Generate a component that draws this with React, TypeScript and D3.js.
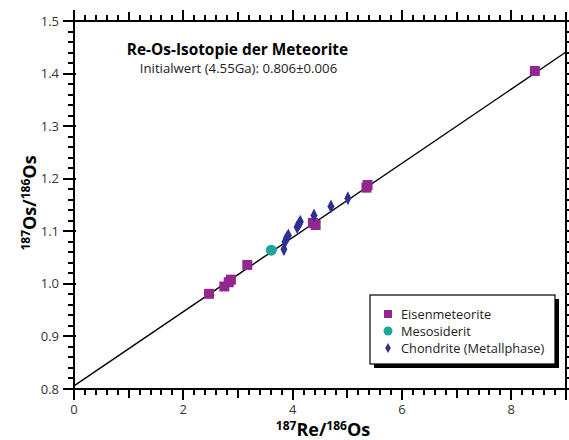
import React, { useRef, useEffect } from 'react';
import * as d3 from 'd3';

// Eisenmeteorite (squares)
const ironRe = [2.47, 2.75, 2.83, 2.87, 3.17, 4.37, 4.42, 5.35, 5.37, 8.43];
const ironOs = [0.981, 0.995, 1.003, 1.008, 1.036, 1.116, 1.112, 1.183, 1.188, 1.405];
// Mesosiderit (circle)
const mesoRe = [3.61];
const mesoOs = [1.064];
// Chondrite (Metallphase) (diamonds)
const chonRe = [3.84, 3.86, 3.89, 3.92, 4.08, 4.11, 4.14, 4.39, 4.7, 5.01];
const chonOs = [1.066, 1.08, 1.087, 1.092, 1.108, 1.113, 1.118, 1.13, 1.147, 1.163];
// isochron
const lineRe = [0, 9];
const lineOs = [0.806, 1.441];

const xMajor = [0, 2, 4, 6, 8];
const yMajor = [0.8, 0.9, 1.0, 1.1, 1.2, 1.3, 1.4, 1.5];

const legendItems = ['Eisenmeteorite', 'Mesosiderit', 'Chondrite (Metallphase)'];

const PURPLE = '#93278f';
const TEAL = '#1ba79b';
const NAVY = '#2e3192';

const Chart = () => {
  const ref = useRef<SVGSVGElement>(null);

  useEffect(() => {
    const root = d3.select(ref.current);
    root.selectAll('*').remove();
    const font = '"Open Sans", "Noto Sans", sans-serif';

    const left = 74;
    const right = 566;
    const top = 21;
    const bottom = 389;

    const x = d3.scaleLinear().domain([0, 9]).range([left, right]);
    const y = d3.scaleLinear().domain([0.8, 1.5]).range([bottom, top]);

    const svg = root.attr('width', 569).attr('height', 440).style('font-family', font);

    // minor ticks every 0.2 on x, every 0.02 on y
    const xMinor = d3.range(0, 46).map((i) => +(i * 0.2).toFixed(1));
    const yMinor = d3.range(0, 36).map((i) => +(0.8 + i * 0.02).toFixed(2));
    const xLen = (i: number) => (i % 10 === 0 ? 11 : i % 5 === 0 ? 9 : 6);
    const yLen = (i: number) => (i % 5 === 0 ? 11 : 6);

    const ticks = svg.append('g').attr('stroke', '#000').attr('stroke-width', 2).attr('shape-rendering', 'crispEdges');
    ticks
      .selectAll('line.xb')
      .data(xMinor)
      .enter()
      .append('line')
      .attr('x1', (d) => Math.round(x(d)))
      .attr('x2', (d) => Math.round(x(d)))
      .attr('y1', bottom)
      .attr('y2', (d, i) => bottom + xLen(i));
    ticks
      .selectAll('line.xt')
      .data(xMinor)
      .enter()
      .append('line')
      .attr('x1', (d) => Math.round(x(d)))
      .attr('x2', (d) => Math.round(x(d)))
      .attr('y1', top)
      .attr('y2', (d, i) => top - xLen(i));
    ticks
      .selectAll('line.yl')
      .data(yMinor)
      .enter()
      .append('line')
      .attr('y1', (d) => Math.round(y(d)))
      .attr('y2', (d) => Math.round(y(d)))
      .attr('x1', (d, i) => left - yLen(i))
      .attr('x2', (d, i) => left + (i % 5 === 0 ? 2 : 0));
    ticks
      .selectAll('line.yr')
      .data(yMinor)
      .enter()
      .append('line')
      .attr('y1', (d) => Math.round(y(d)))
      .attr('y2', (d) => Math.round(y(d)))
      .attr('x1', right)
      .attr('x2', (d, i) => right + yLen(i));

    // frame
    ticks.append('line').attr('x1', left - 11).attr('x2', right + 1).attr('y1', bottom).attr('y2', bottom);
    ticks.append('line').attr('x1', left - 11).attr('x2', right + 1).attr('y1', top).attr('y2', top);
    ticks.append('line').attr('x1', left).attr('x2', left).attr('y1', top - 1).attr('y2', bottom + 11);
    ticks.append('line').attr('x1', right).attr('x2', right).attr('y1', top - 1).attr('y2', bottom + 11);

    svg
      .append('g')
      .selectAll('text')
      .data(xMajor)
      .enter()
      .append('text')
      .attr('x', (d) => x(d))
      .attr('y', 414)
      .attr('text-anchor', 'middle')
      .attr('font-size', 13)
      .attr('fill', '#333')
      .text((d) => d);

    svg
      .append('g')
      .selectAll('text')
      .data(yMajor)
      .enter()
      .append('text')
      .attr('x', 59)
      .attr('y', (d) => y(d) + 4.5)
      .attr('text-anchor', 'end')
      .attr('font-size', 13)
      .attr('fill', '#333')
      .text((d) => d.toFixed(1));

    // axis titles
    const xt = svg
      .append('text')
      .attr('x', 323)
      .attr('y', 436)
      .attr('text-anchor', 'middle')
      .attr('font-size', 18)
      .attr('font-weight', 'bold');
    xt.append('tspan').attr('font-size', 12).attr('dy', -6).text('187');
    xt.append('tspan').attr('dy', 6).text('Re/');
    xt.append('tspan').attr('font-size', 12).attr('dy', -6).text('186');
    xt.append('tspan').attr('dy', 6).text('Os');

    const yt = svg
      .append('text')
      .attr('transform', 'translate(36,203) rotate(-90)')
      .attr('text-anchor', 'middle')
      .attr('font-size', 18)
      .attr('font-weight', 'bold');
    yt.append('tspan').attr('font-size', 12).attr('dy', -6).text('187');
    yt.append('tspan').attr('dy', 6).text('Os/');
    yt.append('tspan').attr('font-size', 12).attr('dy', -6).text('186');
    yt.append('tspan').attr('dy', 6).text('Os');

    // isochron line
    const line = d3
      .line<number>()
      .x((d) => x(d))
      .y((_, i) => y(lineOs[i]));
    svg
      .append('path')
      .attr('d', line(lineRe))
      .attr('fill', 'none')
      .attr('stroke', '#000')
      .attr('stroke-width', 1.4);

    // data
    const sq = d3.symbol(d3.symbolSquare, 100);
    svg
      .append('g')
      .selectAll('path')
      .data(ironRe)
      .enter()
      .append('path')
      .attr('d', sq())
      .attr('transform', (d, i) => `translate(${x(d)},${y(ironOs[i])})`)
      .attr('fill', PURPLE);

    svg
      .append('g')
      .selectAll('circle')
      .data(mesoRe)
      .enter()
      .append('circle')
      .attr('cx', (d) => x(d))
      .attr('cy', (d, i) => y(mesoOs[i]))
      .attr('r', 5.5)
      .attr('fill', TEAL);

    const diamond = 'M0,-7L3.5,0L0,7L-3.5,0Z';
    svg
      .append('g')
      .selectAll('path')
      .data(chonRe)
      .enter()
      .append('path')
      .attr('d', diamond)
      .attr('transform', (d, i) => `translate(${x(d)},${y(chonOs[i])})`)
      .attr('fill', NAVY);

    // title
    svg
      .append('text')
      .attr('x', 237.5)
      .attr('y', 55)
      .attr('text-anchor', 'middle')
      .attr('font-size', 15.4)
      .attr('font-weight', 'bold')
      .text('Re-Os-Isotopie der Meteorite');
    svg
      .append('text')
      .attr('x', 238.5)
      .attr('y', 73)
      .attr('text-anchor', 'middle')
      .attr('font-size', 13.2)
      .attr('fill', '#222')
      .text('Initialwert (4.55Ga): 0.806±0.006');

    // legend
    const lg = svg.append('g');
    lg.append('rect').attr('x', 374).attr('y', 299).attr('width', 185).attr('height', 69).attr('fill', '#000');
    lg.append('rect')
      .attr('x', 370)
      .attr('y', 295)
      .attr('width', 185)
      .attr('height', 69)
      .attr('fill', '#fff')
      .attr('stroke', '#000')
      .attr('stroke-width', 1.2);
    const ly = [314, 331, 348];
    lg.append('rect').attr('x', 384).attr('y', ly[0] - 4).attr('width', 8).attr('height', 8).attr('fill', PURPLE);
    lg.append('circle').attr('cx', 388).attr('cy', ly[1]).attr('r', 4.5).attr('fill', TEAL);
    lg.append('path').attr('d', 'M0,-5L2.8,0L0,5L-2.8,0Z').attr('transform', `translate(388,${ly[2]})`).attr('fill', NAVY);
    lg.selectAll('text.l')
      .data(legendItems)
      .enter()
      .append('text')
      .attr('x', 401)
      .attr('y', (d, i) => ly[i] + 4.5)
      .attr('font-size', 12.8)
      .attr('fill', '#222')
      .text((d) => d);
  }, []);

  return <svg ref={ref}></svg>;
};

export default function App() {
  return (
    <div style={{ position: 'absolute', left: 0, top: 0 }}>
      <Chart />
    </div>
  );
}
